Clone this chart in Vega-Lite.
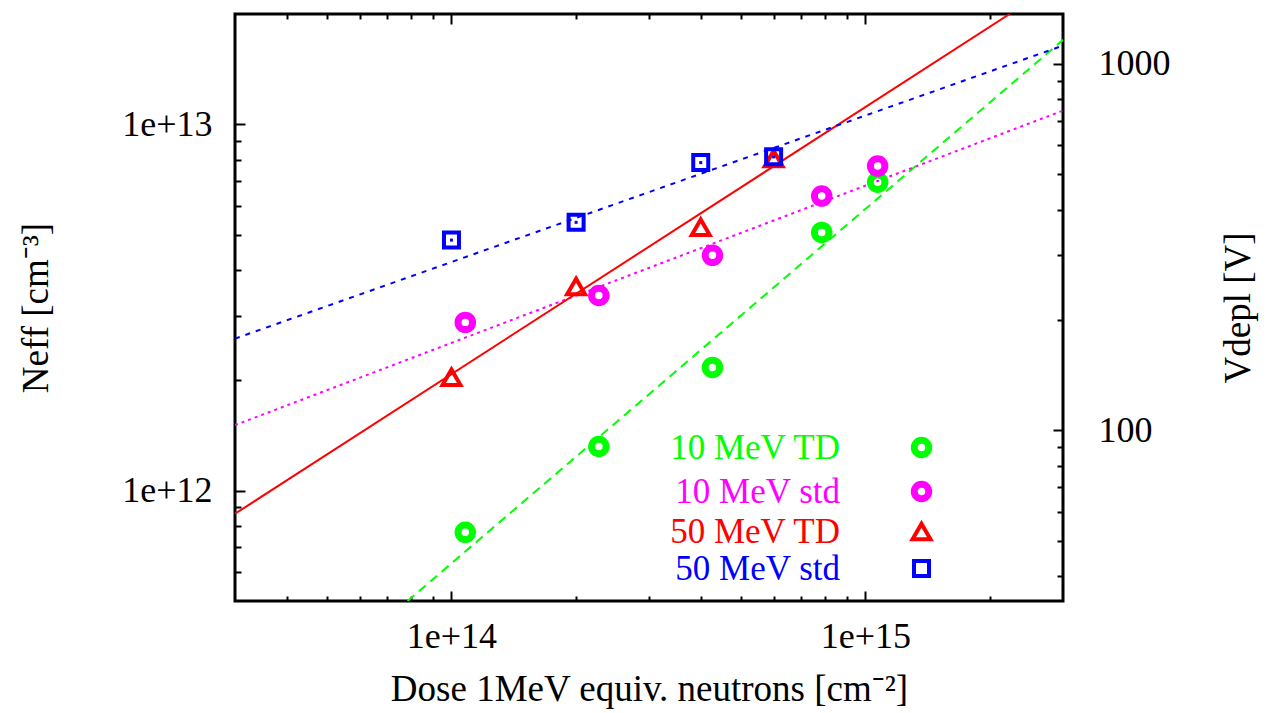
{
  "$schema": "https://vega.github.io/schema/vega-lite/v6.json",
  "width": 828,
  "height": 587,
  "autosize": {"type": "none"},
  "padding": {"left": 235, "top": 14, "right": 206, "bottom": 112},
  "background": "white",
  "datasets": {
    "points": [
      {"series": "10 MeV TD", "dose": 1.08e14, "neff": 7.7e11},
      {"series": "10 MeV TD", "dose": 2.27e14, "neff": 1.32e12},
      {"series": "10 MeV TD", "dose": 4.27e14, "neff": 2.17e12},
      {"series": "10 MeV TD", "dose": 7.84e14, "neff": 5.07e12},
      {"series": "10 MeV TD", "dose": 1.07e15, "neff": 6.95e12},
      {"series": "10 MeV std", "dose": 1.08e14, "neff": 2.88e12},
      {"series": "10 MeV std", "dose": 2.27e14, "neff": 3.41e12},
      {"series": "10 MeV std", "dose": 4.27e14, "neff": 4.39e12},
      {"series": "10 MeV std", "dose": 7.84e14, "neff": 6.37e12},
      {"series": "10 MeV std", "dose": 1.07e15, "neff": 7.69e12},
      {"series": "50 MeV TD", "dose": 1.0e14, "neff": 2.04e12},
      {"series": "50 MeV TD", "dose": 2.0e14, "neff": 3.61e12},
      {"series": "50 MeV TD", "dose": 4.0e14, "neff": 5.24e12},
      {"series": "50 MeV TD", "dose": 6.0e14, "neff": 8.06e12},
      {"series": "50 MeV std", "dose": 1.0e14, "neff": 4.83e12},
      {"series": "50 MeV std", "dose": 2.0e14, "neff": 5.40e12},
      {"series": "50 MeV std", "dose": 4.0e14, "neff": 7.86e12},
      {"series": "50 MeV std", "dose": 6.0e14, "neff": 8.15e12}
    ],
    "fits": [
      {"series": "50 MeV TD", "dose": 3.0e13, "neff": 8.65e11},
      {"series": "50 MeV TD", "dose": 2.23e15, "neff": 2.0e13},
      {"series": "10 MeV TD", "dose": 7.83e13, "neff": 5.0e11},
      {"series": "10 MeV TD", "dose": 3.0e15, "neff": 1.70e13},
      {"series": "50 MeV std", "dose": 3.0e13, "neff": 2.6e12},
      {"series": "50 MeV std", "dose": 3.0e15, "neff": 1.64e13},
      {"series": "10 MeV std", "dose": 3.0e13, "neff": 1.51e12},
      {"series": "10 MeV std", "dose": 3.0e15, "neff": 1.09e13}
    ]
  },
  "layer": [
    {
      "layer": [
        {
          "data": {"name": "fits"},
          "transform": [{"filter": "datum.series === '10 MeV TD'"}],
          "mark": {"type": "line", "strokeWidth": 2, "clip": true, "color": "#00ff00", "strokeDash": [9, 6]},
          "encoding": {
            "x": {
              "field": "dose", "type": "quantitative",
              "scale": {"type": "log", "domain": [3e13, 3e15], "nice": false, "zero": false},
              "axis": {
                "orient": "bottom",
                "title": "Dose 1MeV equiv. neutrons [cm⁻²]",
                "values": [4e13, 5e13, 6e13, 7e13, 8e13, 9e13, 1e14, 2e14, 3e14, 4e14, 5e14, 6e14, 7e14, 8e14, 9e14, 1e15, 2e15],
                "labelExpr": "abs(log(datum.value)/LN10 - round(log(datum.value)/LN10)) < 1e-6 ? '1e+' + round(log(datum.value)/LN10) : ''",
                "tickSize": {"condition": {"test": "abs(log(datum.value)/LN10 - round(log(datum.value)/LN10)) < 1e-6", "value": -10}, "value": -5},
                "labelPadding": 28,
                "titlePadding": 12
              }
            },
            "y": {
              "field": "neff", "type": "quantitative",
              "scale": {"type": "log", "domain": [5e11, 2e13], "nice": false, "zero": false},
              "axis": {
                "orient": "left",
                "title": "Neff [cm⁻³]",
                "values": [6e11, 7e11, 8e11, 9e11, 1e12, 2e12, 3e12, 4e12, 5e12, 6e12, 7e12, 8e12, 9e12, 1e13],
                "labelExpr": "abs(log(datum.value)/LN10 - round(log(datum.value)/LN10)) < 1e-6 ? '1e+' + round(log(datum.value)/LN10) : ''",
                "tickSize": {"condition": {"test": "abs(log(datum.value)/LN10 - round(log(datum.value)/LN10)) < 1e-6", "value": -10}, "value": -6},
                "labelPadding": 33,
                "titlePadding": 66
              }
            }
          }
        },
        {
          "data": {"name": "fits"},
          "transform": [{"filter": "datum.series === '10 MeV std'"}],
          "mark": {"type": "line", "strokeWidth": 2, "clip": true, "color": "#ff00ff", "strokeDash": [3, 4]},
          "encoding": {
            "x": {"field": "dose", "type": "quantitative"},
            "y": {"field": "neff", "type": "quantitative"}
          }
        },
        {
          "data": {"name": "fits"},
          "transform": [{"filter": "datum.series === '50 MeV TD'"}],
          "mark": {"type": "line", "strokeWidth": 2, "clip": true, "color": "#ff0000"},
          "encoding": {
            "x": {"field": "dose", "type": "quantitative"},
            "y": {"field": "neff", "type": "quantitative"}
          }
        },
        {
          "data": {"name": "fits"},
          "transform": [{"filter": "datum.series === '50 MeV std'"}],
          "mark": {"type": "line", "strokeWidth": 2, "clip": true, "color": "#0000ff", "strokeDash": [5, 6]},
          "encoding": {
            "x": {"field": "dose", "type": "quantitative"},
            "y": {"field": "neff", "type": "quantitative"}
          }
        },
        {
          "data": {"name": "points"},
          "transform": [{"filter": "datum.series === '10 MeV TD' || datum.series === '10 MeV std'"}],
          "mark": {"type": "point", "filled": false, "size": 210, "strokeWidth": 7, "opacity": 1},
          "encoding": {
            "x": {"field": "dose", "type": "quantitative"},
            "y": {"field": "neff", "type": "quantitative"},
            "color": {
              "field": "series", "type": "nominal",
              "scale": {"domain": ["10 MeV TD", "10 MeV std", "50 MeV TD", "50 MeV std"], "range": ["#00ff00", "#ff00ff", "#ff0000", "#0000ff"]},
              "legend": {
                "orient": "none", "legendX": 669, "legendY": 416, "title": null,
                "labelFont": "Liberation Serif", "labelFontSize": 35, "labelAlign": "right", "labelBaseline": "middle",
                "labelOffset": -99, "labelLimit": 600, "rowPadding": 1,
                "labelColor": {"expr": "datum.value === '10 MeV TD' ? '#00ff00' : datum.value === '10 MeV std' ? '#ff00ff' : datum.value === '50 MeV TD' ? '#ff0000' : '#0000ff'"},
                "symbolStrokeWidth": {"expr": "datum.value === '10 MeV TD' || datum.value === '10 MeV std' ? 7 : 4"},
                "symbolSize": {"expr": "datum.value === '10 MeV TD' || datum.value === '10 MeV std' ? 210 : datum.value === '50 MeV TD' ? 320 : 225"}
              }
            },
            "shape": {
              "field": "series", "type": "nominal",
              "scale": {"domain": ["10 MeV TD", "10 MeV std", "50 MeV TD", "50 MeV std"], "range": ["circle", "circle", "triangle-up", "square"]}
            }
          }
        },
        {
          "data": {"name": "points"},
          "transform": [{"filter": "datum.series === '50 MeV TD'"}],
          "mark": {"type": "point", "filled": false, "size": 320, "strokeWidth": 4, "opacity": 1},
          "encoding": {
            "x": {"field": "dose", "type": "quantitative"},
            "y": {"field": "neff", "type": "quantitative"},
            "color": {"field": "series", "type": "nominal"},
            "shape": {"field": "series", "type": "nominal"}
          }
        },
        {
          "data": {"name": "points"},
          "transform": [{"filter": "datum.series === '50 MeV std'"}],
          "mark": {"type": "point", "filled": false, "size": 225, "strokeWidth": 4, "opacity": 1},
          "encoding": {
            "x": {"field": "dose", "type": "quantitative"},
            "y": {"field": "neff", "type": "quantitative"},
            "color": {"field": "series", "type": "nominal"},
            "shape": {"field": "series", "type": "nominal"}
          }
        },
        {
          "data": {"name": "points"},
          "transform": [{"filter": "datum.series === '50 MeV std'"}],
          "mark": {"type": "square", "filled": true, "size": 9, "color": "#0000ff", "opacity": 1},
          "encoding": {
            "x": {"field": "dose", "type": "quantitative"},
            "y": {"field": "neff", "type": "quantitative"}
          }
        }
      ]
    },
    {
      "data": {"values": [{}]},
      "mark": {"type": "point", "opacity": 0},
      "encoding": {
        "x": {
          "datum": 1e14, "type": "quantitative",
          "scale": {"type": "log", "domain": [3e13, 3e15], "nice": false, "zero": false},
          "axis": {
            "orient": "top", "title": null, "labels": false,
            "values": [4e13, 5e13, 6e13, 7e13, 8e13, 9e13, 1e14, 2e14, 3e14, 4e14, 5e14, 6e14, 7e14, 8e14, 9e14, 1e15, 2e15],
            "tickSize": {"condition": {"test": "abs(log(datum.value)/LN10 - round(log(datum.value)/LN10)) < 1e-6", "value": -10}, "value": -5}
          }
        },
        "y": {
          "datum": 100, "type": "quantitative",
          "scale": {"type": "log", "domain": [34.2, 1368], "nice": false, "zero": false},
          "axis": {
            "orient": "right",
            "title": "Vdepl [V]",
            "titleAngle": -90,
            "titleBaseline": "top",
            "titlePadding": 50,
            "values": [40, 50, 60, 70, 80, 90, 100, 200, 300, 400, 500, 600, 700, 800, 900, 1000],
            "labelExpr": "datum.value == 100 || datum.value == 1000 ? '' + datum.value : ''",
            "tickSize": {"condition": {"test": "datum.value == 100 || datum.value == 1000", "value": -10}, "value": -6},
            "labelPadding": 45
          }
        }
      }
    }
  ],
  "resolve": {"scale": {"y": "independent"}, "axis": {"x": "independent", "y": "independent"}},
  "config": {
    "view": {"stroke": "#000000", "strokeWidth": 3},
    "axis": {
      "domain": false, "grid": false,
      "tickColor": "#000000", "tickWidth": 2,
      "labelFont": "Liberation Serif", "titleFont": "Liberation Serif",
      "labelColor": "#000000", "titleColor": "#000000",
      "labelFontSize": 36, "titleFontSize": 37, "titleFontWeight": "normal",
      "labelOverlap": false, "labelFlush": false
    },
    "legend": {"labelFont": "Liberation Serif", "labelFontSize": 35}
  }
}
